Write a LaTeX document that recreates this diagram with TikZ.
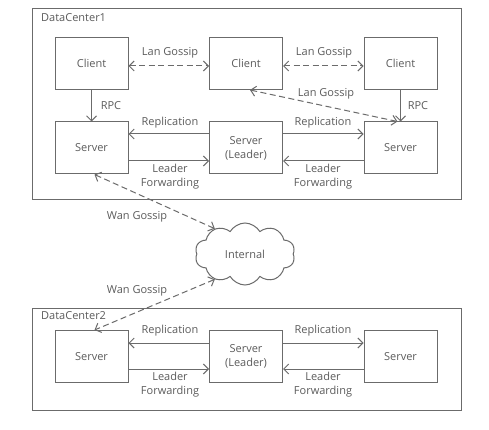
\documentclass[tikz,border=0pt]{standalone}
\usepackage{fontspec}
\setmainfont{Open Sans}
\usetikzlibrary{arrows.meta,shapes.symbols}
\definecolor{DCLine}{HTML}{6B6B6B}
\definecolor{DCText}{HTML}{5C5C5C}

\begin{document}
\begin{tikzpicture}[x=1pt,y=-1pt,font=\fontsize{11}{14}\selectfont,text=DCText,
  box/.style={draw=DCLine,line width=1pt,minimum width=73pt,minimum height=52pt,inner sep=0pt,align=center},
  frame/.style={draw=DCLine,line width=1pt},
  link/.style={draw=DCLine,line width=1pt,-{Straight Barb[length=5pt,width=10pt]}},
  gossip/.style={link,{Straight Barb[length=5pt,width=10pt]}-{Straight Barb[length=5pt,width=10pt]},dash pattern=on 6pt off 3.5pt},
  tag/.style={inner sep=1pt,align=center}]
\fill[white,use as bounding box] (0,0) rectangle (489,430);
\draw[frame] (32,9) rectangle (461,200);
\node[tag,anchor=west] (dc1) at (40,17.5) {DataCenter1};
\node[box] (c1) at (91.5,63.5) {Client};
\node[box] (c2) at (246,63.5) {Client};
\node[box] (c3) at (400.5,63.5) {Client};
\node[box] (s1) at (91.5,148) {Server};
\node[box] (s2) at (246,148) {Server\\(Leader)};
\node[box] (s3) at (400.5,148) {Server};
\draw[gossip] ([yshift=-2.5pt]c1.east) -- ([yshift=-2.5pt]c2.west);
\node[tag] (lan1) at (170,53) {Lan Gossip};
\draw[gossip] ([yshift=-2.5pt]c2.east) -- ([yshift=-2.5pt]c3.west);
\node[tag] (lan2) at (324,53) {Lan Gossip};
\draw[gossip] ([xshift=4pt]c2.south) -- ([xshift=-3pt]s3.north);
\node[tag] (lan3) at (326,94) {Lan Gossip};
\draw[link] (c1) -- (s1);
\node[tag] (rpc1) at (111,106) {RPC};
\draw[link] (c3) -- (s3);
\node[tag] (rpc3) at (418,106) {RPC};
\draw[link] ([yshift=14pt]s2.west) -- ([yshift=14pt]s1.east);
\node[tag] (rep1) at (170,123) {Replication};
\draw[link] ([yshift=-13pt]s1.east) -- ([yshift=-13pt]s2.west);
\node[tag] (fwd1) at (170,177) {Leader\\Forwarding};
\draw[link] ([yshift=14pt]s2.east) -- ([yshift=14pt]s3.west);
\node[tag] (rep3) at (323,123) {Replication};
\draw[link] ([yshift=-13pt]s3.west) -- ([yshift=-13pt]s2.east);
\node[tag] (fwd3) at (323,177) {Leader\\Forwarding};
\node[cloud,draw=DCLine,line width=1pt,cloud puffs=10,cloud puff arc=120,aspect=1.6,minimum width=100pt,minimum height=62pt] (net) at (245,254) {Internal};
\draw[gossip] ([xshift=3pt]s1.south) -- (net.140);
\node[tag] (wan1) at (137,217) {Wan Gossip};
\draw[frame] (32,308) rectangle (461,410);
\node[tag,anchor=west] (dc2) at (40,316) {DataCenter2};
\node[box] (t1) at (91.5,356.5) {Server};
\node[box] (t2) at (246,356.5) {Server\\(Leader)};
\node[box] (t3) at (400.5,356.5) {Server};
\draw[gossip] (net.220) -- ([xshift=3pt]t1.north);
\node[tag] (wan2) at (137,291) {Wan Gossip};
\draw[link] ([yshift=13.5pt]t2.west) -- ([yshift=13.5pt]t1.east);
\node[tag] (rep4) at (170,331) {Replication};
\draw[link] ([yshift=-12.5pt]t1.east) -- ([yshift=-12.5pt]t2.west);
\node[tag] (fwd4) at (170,384.5) {Leader\\Forwarding};
\draw[link] ([yshift=13.5pt]t2.east) -- ([yshift=13.5pt]t3.west);
\node[tag] (rep6) at (323,331) {Replication};
\draw[link] ([yshift=-12.5pt]t3.west) -- ([yshift=-12.5pt]t2.east);
\node[tag] (fwd6) at (323,384.5) {Leader\\Forwarding};
\end{tikzpicture}
\end{document}
